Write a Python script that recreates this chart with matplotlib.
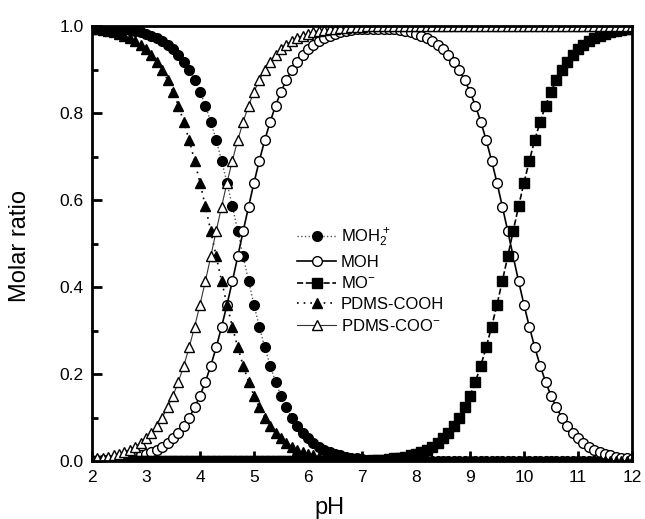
import matplotlib
matplotlib.use("Agg")
import matplotlib.pyplot as plt
from matplotlib.ticker import MultipleLocator, FormatStrFormatter

plt.rcParams['font.family'] = ['Liberation Sans', 'DejaVu Sans']
plt.rcParams['mathtext.default'] = 'regular'

# pH grid (0.1 steps) and molar ratios
ph = [2.0, 2.1, 2.2, 2.3, 2.4, 2.5, 2.6, 2.7, 2.8, 2.9,
      3.0, 3.1, 3.2, 3.3, 3.4, 3.5, 3.6, 3.7, 3.8, 3.9,
      4.0, 4.1, 4.2, 4.3, 4.4, 4.5, 4.6, 4.7, 4.8, 4.9,
      5.0, 5.1, 5.2, 5.3, 5.4, 5.5, 5.6, 5.7, 5.8, 5.9,
      6.0, 6.1, 6.2, 6.3, 6.4, 6.5, 6.6, 6.7, 6.8, 6.9,
      7.0, 7.1, 7.2, 7.3, 7.4, 7.5, 7.6, 7.7, 7.8, 7.9,
      8.0, 8.1, 8.2, 8.3, 8.4, 8.5, 8.6, 8.7, 8.8, 8.9,
      9.0, 9.1, 9.2, 9.3, 9.4, 9.5, 9.6, 9.7, 9.8, 9.9,
      10.0, 10.1, 10.2, 10.3, 10.4, 10.5, 10.6, 10.7, 10.8, 10.9,
      11.0, 11.1, 11.2, 11.3, 11.4, 11.5, 11.6, 11.7, 11.8, 11.9,
      12.0]

moh2 = [0.998, 0.998, 0.997, 0.996, 0.996, 0.994, 0.993, 0.991, 0.989, 0.986,
        0.982, 0.978, 0.973, 0.966, 0.957, 0.947, 0.934, 0.918, 0.899, 0.876,
        0.849, 0.817, 0.780, 0.738, 0.691, 0.640, 0.586, 0.529, 0.471, 0.415,
        0.360, 0.309, 0.262, 0.220, 0.183, 0.151, 0.124, 0.101, 0.082, 0.066,
        0.053, 0.043, 0.034, 0.027, 0.022, 0.018, 0.014, 0.011, 0.009, 0.007,
        0.006, 0.004, 0.004, 0.003, 0.002, 0.002, 0.001, 0.001, 0.001, 0.001,
        0.001, 0.000, 0.000, 0.000, 0.000, 0.000, 0.000, 0.000, 0.000, 0.000,
        0.000, 0.000, 0.000, 0.000, 0.000, 0.000, 0.000, 0.000, 0.000, 0.000,
        0.000, 0.000, 0.000, 0.000, 0.000, 0.000, 0.000, 0.000, 0.000, 0.000,
        0.000, 0.000, 0.000, 0.000, 0.000, 0.000, 0.000, 0.000, 0.000, 0.000,
        0.000]

moh = [0.002, 0.002, 0.003, 0.004, 0.004, 0.006, 0.007, 0.009, 0.011, 0.014,
       0.018, 0.022, 0.027, 0.034, 0.043, 0.053, 0.066, 0.082, 0.101, 0.124,
       0.151, 0.183, 0.220, 0.262, 0.309, 0.360, 0.414, 0.471, 0.529, 0.585,
       0.640, 0.691, 0.738, 0.780, 0.817, 0.849, 0.876, 0.899, 0.918, 0.934,
       0.947, 0.957, 0.966, 0.973, 0.978, 0.981, 0.985, 0.988, 0.990, 0.992,
       0.992, 0.994, 0.993, 0.993, 0.994, 0.992, 0.992, 0.990, 0.988, 0.985,
       0.981, 0.978, 0.973, 0.966, 0.957, 0.947, 0.934, 0.918, 0.899, 0.876,
       0.849, 0.817, 0.780, 0.738, 0.691, 0.640, 0.585, 0.529, 0.471, 0.414,
       0.360, 0.309, 0.262, 0.220, 0.183, 0.151, 0.124, 0.101, 0.082, 0.066,
       0.053, 0.043, 0.034, 0.027, 0.022, 0.018, 0.014, 0.011, 0.009, 0.007,
       0.006]

mo = [0.000, 0.000, 0.000, 0.000, 0.000, 0.000, 0.000, 0.000, 0.000, 0.000,
      0.000, 0.000, 0.000, 0.000, 0.000, 0.000, 0.000, 0.000, 0.000, 0.000,
      0.000, 0.000, 0.000, 0.000, 0.000, 0.000, 0.000, 0.000, 0.000, 0.000,
      0.000, 0.000, 0.000, 0.000, 0.000, 0.000, 0.000, 0.000, 0.000, 0.000,
      0.000, 0.000, 0.000, 0.000, 0.000, 0.001, 0.001, 0.001, 0.001, 0.001,
      0.002, 0.002, 0.003, 0.004, 0.004, 0.006, 0.007, 0.009, 0.011, 0.014,
      0.018, 0.022, 0.027, 0.034, 0.043, 0.053, 0.066, 0.082, 0.101, 0.124,
      0.151, 0.183, 0.220, 0.262, 0.309, 0.360, 0.415, 0.471, 0.529, 0.586,
      0.640, 0.691, 0.738, 0.780, 0.817, 0.849, 0.876, 0.899, 0.918, 0.934,
      0.947, 0.957, 0.966, 0.973, 0.978, 0.982, 0.986, 0.989, 0.991, 0.993,
      0.994]

pdms_cooh = [0.994, 0.993, 0.991, 0.989, 0.986, 0.982, 0.978, 0.973, 0.966, 0.957,
             0.947, 0.934, 0.918, 0.899, 0.876, 0.849, 0.817, 0.780, 0.738, 0.691,
             0.640, 0.586, 0.529, 0.471, 0.415, 0.360, 0.309, 0.262, 0.220, 0.183,
             0.151, 0.124, 0.101, 0.082, 0.066, 0.053, 0.043, 0.034, 0.027, 0.022,
             0.018, 0.014, 0.011, 0.009, 0.007, 0.006, 0.004, 0.004, 0.003, 0.002,
             0.002, 0.001, 0.001, 0.001, 0.001, 0.001, 0.000, 0.000, 0.000, 0.000,
             0.000, 0.000, 0.000, 0.000, 0.000, 0.000, 0.000, 0.000, 0.000, 0.000,
             0.000, 0.000, 0.000, 0.000, 0.000, 0.000, 0.000, 0.000, 0.000, 0.000,
             0.000, 0.000, 0.000, 0.000, 0.000, 0.000, 0.000, 0.000, 0.000, 0.000,
             0.000, 0.000, 0.000, 0.000, 0.000, 0.000, 0.000, 0.000, 0.000, 0.000,
             0.000]

pdms_coo = [0.006, 0.007, 0.009, 0.011, 0.014, 0.018, 0.022, 0.027, 0.034, 0.043,
            0.053, 0.066, 0.082, 0.101, 0.124, 0.151, 0.183, 0.220, 0.262, 0.309,
            0.360, 0.414, 0.471, 0.529, 0.585, 0.640, 0.691, 0.738, 0.780, 0.817,
            0.849, 0.876, 0.899, 0.918, 0.934, 0.947, 0.957, 0.966, 0.973, 0.978,
            0.982, 0.986, 0.989, 0.991, 0.993, 0.994, 0.996, 0.996, 0.997, 0.998,
            0.998, 0.999, 0.999, 0.999, 0.999, 0.999, 1.000, 1.000, 1.000, 1.000,
            1.000, 1.000, 1.000, 1.000, 1.000, 1.000, 1.000, 1.000, 1.000, 1.000,
            1.000, 1.000, 1.000, 1.000, 1.000, 1.000, 1.000, 1.000, 1.000, 1.000,
            1.000, 1.000, 1.000, 1.000, 1.000, 1.000, 1.000, 1.000, 1.000, 1.000,
            1.000, 1.000, 1.000, 1.000, 1.000, 1.000, 1.000, 1.000, 1.000, 1.000,
            1.000]

labels = [r'MOH$_2^+$', 'MOH', r'MO$^{-}$', 'PDMS-COOH', r'PDMS-COO$^{-}$']

fig = plt.figure(figsize=(6.45, 5.19), dpi=100)
ax = fig.add_axes([0.1426, 0.1108, 0.8372, 0.8392])

ms = 7
ax.plot(ph, moh2, color='#555555', ls=':', lw=1, marker='o', ms=ms,
        mfc='black', mec='black', label=labels[0], zorder=3)
ax.plot(ph, moh, color='black', ls='-', lw=1.2, marker='o', ms=ms,
        mfc='white', mec='black', mew=1, label=labels[1], zorder=3)
ax.plot(ph, mo, color='black', ls='--', lw=1.2, marker='s', ms=ms - 0.5,
        mfc='black', mec='black', label=labels[2], zorder=3)
ax.plot(ph, pdms_cooh, color='black', ls=(0, (1, 3)), lw=1.2, marker='^', ms=ms,
        mfc='black', mec='black', label=labels[3], zorder=3)
ax.plot(ph, pdms_coo, color='#333333', ls='-', lw=0.8, marker='^', ms=ms,
        mfc='white', mec='black', mew=1, label=labels[4], zorder=3)

ax.set_xlim(2, 12)
ax.set_ylim(0, 1.0)
ax.xaxis.set_major_locator(MultipleLocator(1))
ax.yaxis.set_major_locator(MultipleLocator(0.2))
ax.yaxis.set_minor_locator(MultipleLocator(0.1))
ax.tick_params(which='both', direction='in', labelsize=12.5, width=2, pad=6)
ax.tick_params(which='major', length=7)
ax.tick_params(which='minor', length=4)
ax.yaxis.set_major_formatter(FormatStrFormatter('%.1f'))
for s in ax.spines.values():
    s.set_linewidth(2)
    s.set_zorder(5)

ax.set_xlabel('pH', fontsize=17)
ax.set_ylabel('Molar ratio', fontsize=17)
ax.xaxis.set_label_coords(0.44, -0.082)
ax.yaxis.set_label_coords(-0.113, 0.494)

ax.legend(loc='upper left', bbox_to_anchor=(0.38, 0.54), frameon=False,
          fontsize=12, handlelength=2.35, handletextpad=0.25, labelspacing=0.35,
          borderaxespad=0, borderpad=0)

fig.savefig('out.png', dpi=100)
